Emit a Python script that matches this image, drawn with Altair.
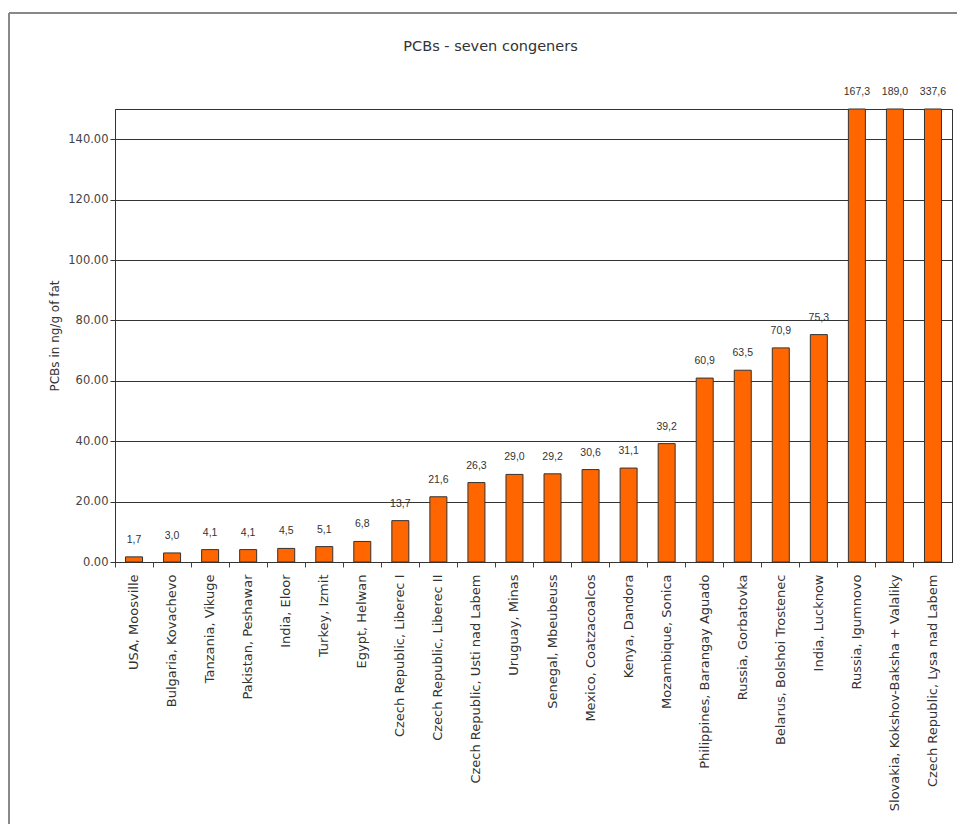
import altair as alt
import pandas as pd

sites = [
    "USA, Moosville",
    "Bulgaria, Kovachevo",
    "Tanzania, Vikuge",
    "Pakistan, Peshawar",
    "India, Eloor",
    "Turkey, Izmit",
    "Egypt, Helwan",
    "Czech Republic, Liberec I",
    "Czech Republic, Liberec II",
    "Czech Republic, Usti nad Labem",
    "Uruguay, Minas",
    "Senegal, Mbeubeuss",
    "Mexico, Coatzacoalcos",
    "Kenya, Dandora",
    "Mozambique, Sonica",
    "Philippines, Barangay Aguado",
    "Russia, Gorbatovka",
    "Belarus, Bolshoi Trostenec",
    "India, Lucknow",
    "Russia, Igumnovo",
    "Slovakia, Kokshov-Baksha + Valaliky",
    "Czech Republic, Lysa nad Labem",
]
values = [1.7, 3.0, 4.1, 4.1, 4.5, 5.1, 6.8, 13.7, 21.6, 26.3, 29.0, 29.2,
          30.6, 31.1, 39.2, 60.9, 63.5, 70.9, 75.3, 167.3, 189.0, 337.6]
y_ticks = [0, 20, 40, 60, 80, 100, 120, 140]

df = pd.DataFrame({"site": sites, "value": values})
df["label"] = [f"{v:.1f}".replace(".", ",") for v in values]

FONT = "DejaVu Sans"

x_enc = alt.X(
    "site:N", sort=None, title=None,
    scale=alt.Scale(paddingInner=0.0, paddingOuter=0.0),
    axis=alt.Axis(
        labelAngle=270, labelFont=FONT, labelFontSize=13, labelColor="#333",
        labelPadding=7, labelLimit=400, tickSize=5, tickColor="#444",
        bandPosition=0, domainColor="#333", grid=False,
    ),
)
y_scale = alt.Scale(domain=[0, 150], clamp=True, nice=False)
y_enc = alt.Y(
    "value:Q", scale=y_scale, title="PCBs in ng/g of fat",
    axis=alt.Axis(
        values=y_ticks, format=".2f", labelFont=FONT, labelFontSize=11.5,
        labelColor="#444", tickSize=5, tickColor="#333", labelPadding=2,
        grid=True, gridColor="#333", gridOpacity=1, gridWidth=1,
        domainColor="#333", titleFont=FONT, titleFontSize=12,
        titleFontWeight="normal", titleColor="#333", titlePadding=6,
    ),
)

base = alt.Chart(df)
bars = base.mark_bar(size=17, fill="#FF6600", stroke="#333", strokeWidth=1).encode(
    x=x_enc, y=y_enc
)
text = base.mark_text(
    dy=-17, baseline="middle", font="Liberation Sans", fontSize=10.5, color="#333"
).encode(x=x_enc, y=y_enc, text="label:N")

frame_df = pd.DataFrame({"k": [0]})
frame_top = alt.Chart(frame_df).mark_rule(color="#888", strokeWidth=2).encode(
    x=alt.value(-106), x2=alt.value(850), y=alt.value(-96)
)
frame_left = alt.Chart(frame_df).mark_rule(color="#888", strokeWidth=2).encode(
    x=alt.value(-106), y=alt.value(-96), y2=alt.value(720)
)

chart = alt.layer(frame_top, frame_left, bars, text).properties(
    width=837,
    height=453,
    autosize=alt.AutoSizeParams(type="none"),
    padding={"left": 107, "top": 101, "right": 5, "bottom": 262},
    title=alt.TitleParams(
        "PCBs - seven congeners", anchor="middle", dx=-43, offset=-42,
        font=FONT, fontSize=14.5, fontWeight="normal", color="#333", frame="group",
    ),
).configure_view(stroke="#333", strokeWidth=1)

chart.save("out.html", embed_options={"renderer": "svg", "actions": False})
